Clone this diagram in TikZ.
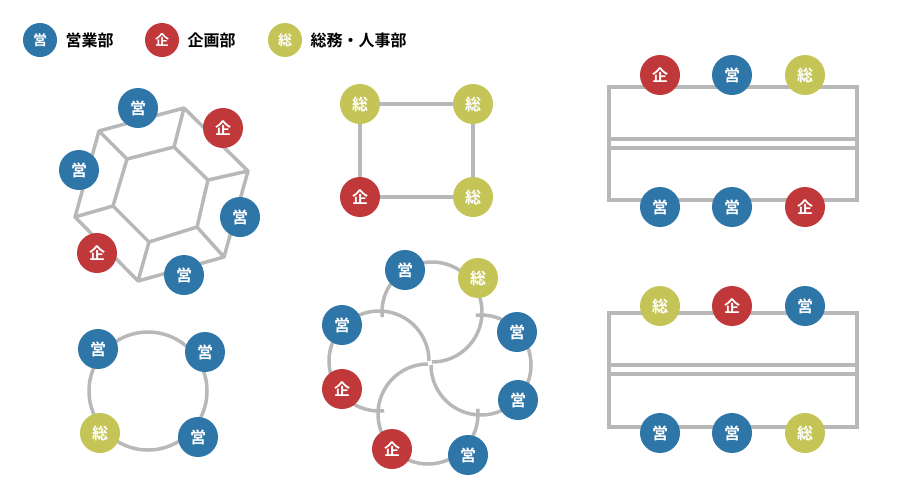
\documentclass[tikz,border=0pt]{standalone}
\usepackage{fontspec}
\newfontfamily\cjk{Noto Sans CJK JP}
\newfontfamily\cjkb{Noto Sans CJK JP Bold}
\definecolor{cb}{HTML}{2F76A8}
\definecolor{cr}{HTML}{C0383A}
\definecolor{cg}{HTML}{C5C557}
\definecolor{ln}{HTML}{B8B8B8}
\tikzset{
  mem/.style={circle,minimum size=40pt,inner sep=0pt,text=white,font=\cjkb\fontsize{16}{16}\selectfont},
  E/.style={mem,fill=cb}, K/.style={mem,fill=cr}, S/.style={mem,fill=cg},
  lg/.style={circle,minimum size=34pt,inner sep=0pt,text=white,font=\cjkb\fontsize{14}{14}\selectfont},
  lt/.style={anchor=west,font=\cjkb\fontsize{16}{16}\selectfont},
  edge/.style={draw=ln,line width=3.5pt}
}
\begin{document}
\begin{tikzpicture}[x=1pt,y=-1pt]
\useasboundingbox (0,0) rectangle (920,496);
% legend
\node[lg,fill=cb] (l1) at (40,40) {営}; \node[lt] (t1) at (62,40) {営業部};
\node[lg,fill=cr] (l2) at (162,40) {企}; \node[lt] (t2) at (184,40) {企画部};
\node[lg,fill=cg] (l3) at (285,40) {総}; \node[lt] (t3) at (307,40) {総務・人事部};
% hexagon
\coordinate (o1) at (99,131); \coordinate (o2) at (184,108); \coordinate (o3) at (248,171);
\coordinate (o4) at (224,257); \coordinate (o5) at (138,281); \coordinate (o6) at (75,217);
\coordinate (i1) at (127,159); \coordinate (i2) at (174,147); \coordinate (i3) at (208,180);
\coordinate (i4) at (197,227); \coordinate (i5) at (149,242); \coordinate (i6) at (113,206);
\draw[edge,line join=round] (o1)--(o2)--(o3)--(o4)--(o5)--(o6)--cycle (i1)--(i2)--(i3)--(i4)--(i5)--(i6)--cycle
  (o1)--(i1) (o2)--(i2) (o3)--(i3) (o4)--(i4) (o5)--(i5) (o6)--(i6);
\node[E] (h1) at (138,108) {営}; \node[K] (h2) at (223,128) {企}; \node[E] (h3) at (79,170) {営};
\node[E] (h4) at (240,217) {営}; \node[K] (h5) at (97,253) {企}; \node[E] (h6) at (184,275) {営};
% circle
\draw[edge] (148,391) circle (59);
\node[E] (c1) at (98,349) {営}; \node[E] (c2) at (205,352) {営};
\node[S] (c3) at (100,433) {総}; \node[E] (c4) at (198,437) {営};
% square
\node[S] (q1) at (360,104) {総}; \node[S] (q2) at (473,104) {総};
\node[K] (q3) at (360,197) {企}; \node[S] (q4) at (473,197) {総};
\draw[edge] (q1)--(q2) (q2)--(q4) (q4)--(q3) (q3)--(q1);
% swirl
\draw[edge] (432,312) ++(-186:50) arc[start angle=-186,end angle=90,radius=50];
\draw[edge] (481,365) ++(-96:50) arc[start angle=-96,end angle=180,radius=50];
\draw[edge] (428,414) ++(-6:50) arc[start angle=-6,end angle=270,radius=50];
\draw[edge] (379,361) ++(84:50) arc[start angle=84,end angle=360,radius=50];
\node[E] (s1) at (405,270) {営}; \node[S] (s2) at (478,278) {総};
\node[E] (s3) at (517,332) {営}; \node[E] (s4) at (518,400) {営};
\node[E] (s5) at (468,455) {営}; \node[K] (s6) at (392,449) {企};
\node[K] (s7) at (342,389) {企}; \node[E] (s8) at (342,325) {営};
% bars 1
\draw[edge] (609,87) rectangle (857,200) (609,139) -- (857,139) (609,148) -- (857,148);
\node[K] (a1) at (660,75) {企}; \node[E] (a2) at (732,75) {営}; \node[S] (a3) at (805,75) {総};
\node[E] (a4) at (660,207) {営}; \node[E] (a5) at (732,207) {営}; \node[K] (a6) at (805,207) {企};
% bars 2
\draw[edge] (609,313) rectangle (857,427) (609,365) -- (857,365) (609,374) -- (857,374);
\node[S] (b1) at (660,306) {総}; \node[K] (b2) at (732,306) {企}; \node[E] (b3) at (805,306) {営};
\node[E] (b4) at (660,433) {営}; \node[E] (b5) at (732,433) {営}; \node[S] (b6) at (805,433) {総};
\end{tikzpicture}
\end{document}
